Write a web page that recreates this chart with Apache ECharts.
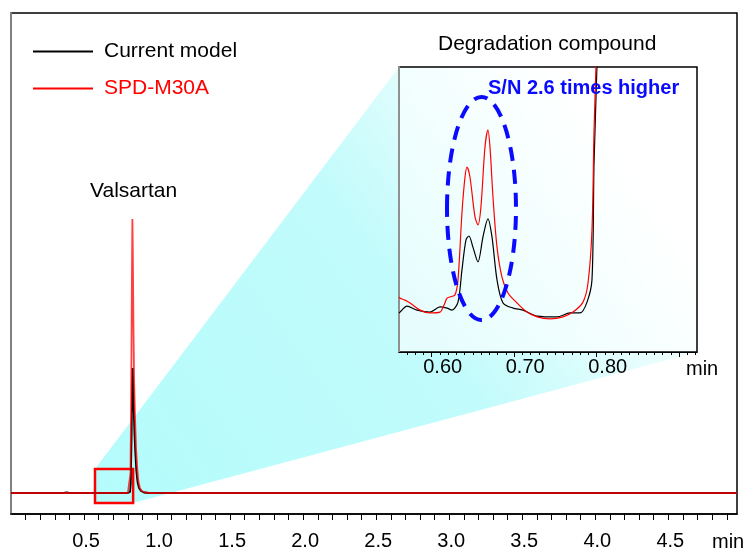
<!DOCTYPE html>
<html>
<head>
<meta charset="utf-8">
<script src="https://cdn.jsdelivr.net/npm/echarts@6/dist/echarts.min.js"></script>
<style>
html, body { margin: 0; padding: 0; background: #fff; }
#chart { width: 749px; height: 549px; }
</style>
</head>
<body>
<div id="chart"></div>
<script>
// main chromatogram (time in min, signal)
var mainTimeBlack = [0, 0.36, 0.38, 0.40, 0.80, 0.815, 0.82, 0.826, 0.830, 0.833, 0.836, 0.840, 0.845, 0.851, 0.858, 0.866, 0.876, 0.89, 0.91, 0.94, 4.97];
var mainSignalBlack = [0, 0, 0.5, 0, 0, 1, 10, 60, 110, 125, 110, 85, 60, 40, 22, 11, 5, 2, 0.5, 0, 0];
var mainTimeRed = [0, 0.80, 0.812, 0.818, 0.823, 0.828, 0.831, 0.834, 0.838, 0.843, 0.849, 0.856, 0.864, 0.872, 0.882, 0.895, 0.92, 0.95, 4.97];
var mainSignalRed = [0, 0, 2, 20, 100, 220, 274, 240, 170, 110, 75, 45, 25, 12, 5, 2, 0.5, 0, 0];

// inset (degradation compound)
var insetTimeRed = [0.5604, 0.5616, 0.5676, 0.5737, 0.5858, 0.5980, 0.6101, 0.6150, 0.6186, 0.6222, 0.6282, 0.6319, 0.6367, 0.6404, 0.6428, 0.6464, 0.6525, 0.6561, 0.6597, 0.6646, 0.6682, 0.6707, 0.6743, 0.6792, 0.6852, 0.6925, 0.7034, 0.7155, 0.7277, 0.7434, 0.7592, 0.7713, 0.7834, 0.7895, 0.7943, 0.7968, 0.7992, 0.8010];
var insetSignalRed = [19.3, 18.9, 18.2, 17.2, 14.7, 13.7, 14.0, 16.5, 18.9, 19.3, 20.0, 25.3, 48.8, 61.4, 64.9, 61.4, 47.4, 44.6, 50.9, 71.9, 77.9, 71.9, 54.4, 36.8, 26.3, 20.7, 17.2, 14.0, 12.3, 11.6, 12.3, 14.0, 17.5, 24.2, 42.8, 77.9, 101, 130];
var insetTimeBlack = [0.5604, 0.5616, 0.5700, 0.5822, 0.5980, 0.6101, 0.6186, 0.6246, 0.6319, 0.6367, 0.6416, 0.6452, 0.6500, 0.6561, 0.6622, 0.6682, 0.6731, 0.6792, 0.6865, 0.6986, 0.7107, 0.7277, 0.7519, 0.7677, 0.7798, 0.7883, 0.7943, 0.7968, 0.8004, 0.8020];
var insetSignalBlack = [13.7, 14.0, 16.1, 14.7, 14.0, 15.8, 15.4, 14.7, 17.5, 28.8, 39.3, 40.7, 36.8, 31.6, 40.4, 46.7, 40.4, 25.3, 17.2, 15.4, 14.7, 12.6, 12.3, 13.7, 13.7, 17.5, 25.3, 66.3, 101, 130];

// axis ticks
var mainLabelTicks = [0.5, 1.0, 1.5, 2.0, 2.5, 3.0, 3.5, 4.0, 4.5];
var mainMinorTicks = [0.1, 0.2, 0.3, 0.4, 0.5, 0.6, 0.7, 0.8, 0.9, 1.0, 1.1, 1.2, 1.3, 1.4, 1.5, 1.6, 1.7, 1.8, 1.9, 2.0, 2.1, 2.2, 2.3, 2.4, 2.5, 2.6, 2.7, 2.8, 2.9, 3.0, 3.1, 3.2, 3.3, 3.4, 3.5, 3.6, 3.7, 3.8, 3.9, 4.0, 4.1, 4.2, 4.3, 4.4, 4.5, 4.6, 4.7, 4.8, 4.9];
var insetLabelTicks = [0.6, 0.7, 0.8];
var insetMajorTicks = [0.6, 0.7, 0.8, 0.9];
var insetMinorTicks = [0.57, 0.58, 0.59, 0.61, 0.62, 0.63, 0.64, 0.65, 0.66, 0.67, 0.68, 0.69, 0.71, 0.72, 0.73, 0.74, 0.75, 0.76, 0.77, 0.78, 0.79, 0.81, 0.82, 0.83, 0.84, 0.85, 0.86, 0.87, 0.88, 0.89, 0.91, 0.92];

// zoom box and highlight ellipse (data coords)
var zoomBox = [[0.575, 24], [0.836, -10]];
var ellipseBox = [[0.6186, 89.5], [0.7022, 11.2]];

var FONT = 'Liberation Sans, Arial, sans-serif';

function pairs(xs, ys) {
    var out = [];
    for (var i = 0; i < xs.length; i++) out.push([xs[i], ys[i]]);
    return out;
}

var chart = echarts.init(document.getElementById('chart'));

var option = {
    animation: false,
    textStyle: { fontFamily: FONT },
    legend: {
        orient: 'vertical',
        left: 28,
        top: 36,
        icon: 'rect',
        itemWidth: 60,
        itemHeight: 2,
        itemGap: 16,
        selectedMode: false,
        textStyle: { fontSize: 21, fontFamily: FONT, padding: [0, 0, 0, 6] },
        data: [
            { name: 'Current model', itemStyle: { color: '#000' }, textStyle: { color: '#000' } },
            { name: 'SPD-M30A', itemStyle: { color: '#ff0000' }, textStyle: { color: '#ff0000' } }
        ]
    },
    grid: [
        { left: 11, top: 13, right: 12, bottom: 35, outerBoundsMode: 'none', containLabel: false,
          show: true, borderColor: '#000', borderWidth: 1.5, backgroundColor: 'transparent' },
        { left: 399, top: 67, width: 298, height: 285, outerBoundsMode: 'none', containLabel: false,
          show: true, borderColor: '#000', borderWidth: 1.5, backgroundColor: 'rgba(255,255,255,0.6)' }
    ],
    xAxis: [
        {
            gridIndex: 0, type: 'value', min: 0, max: 4.97, position: 'bottom',
            axisLine: { onZero: false, lineStyle: { color: '#000', width: 1.5 } },
            axisTick: { length: 6, lineStyle: { color: '#000' }, customValues: mainMinorTicks },
            axisLabel: { customValues: mainLabelTicks, fontSize: 20, color: '#000', margin: 17, fontFamily: FONT,
                padding: [0, 0, 0, 4], formatter: function (v) { return v.toFixed(1); } },
            splitLine: { show: false }
        },
        {
            gridIndex: 1, type: 'value', min: 0.5604, max: 0.9216, position: 'bottom',
            axisLine: { onZero: false, lineStyle: { color: '#000', width: 1.2 } },
            axisTick: { length: 5, lineStyle: { color: '#000' }, customValues: insetMajorTicks },
            axisLabel: { customValues: insetLabelTicks, fontSize: 20, color: '#000', margin: 5, fontFamily: FONT,
                padding: [0, 0, 0, 22], formatter: function (v) { return v.toFixed(2); } },
            splitLine: { show: false }
        },
        {
            gridIndex: 1, type: 'value', min: 0.5604, max: 0.9216, position: 'bottom',
            axisLine: { show: false, onZero: false },
            axisTick: { length: 3, lineStyle: { color: '#000' }, customValues: insetMinorTicks },
            axisLabel: { show: false },
            splitLine: { show: false }
        }
    ],
    yAxis: [
        {
            gridIndex: 0, type: 'value', min: -21, max: 480,
            axisLine: { show: true, onZero: false, lineStyle: { color: '#808080', width: 2 } },
            axisTick: { show: false }, axisLabel: { show: false }, splitLine: { show: false }
        },
        {
            gridIndex: 1, type: 'value', min: 0, max: 100,
            axisLine: { show: true, onZero: false, lineStyle: { color: '#909090', width: 2 } },
            axisTick: { show: false }, axisLabel: { show: false }, splitLine: { show: false }
        }
    ],
    series: [
        {
            name: 'Current model', type: 'line', xAxisIndex: 0, yAxisIndex: 0,
            data: pairs(mainTimeBlack, mainSignalBlack), showSymbol: false,
            lineStyle: { color: '#000', width: 1.8 }, itemStyle: { color: '#000' }
        },
        {
            name: 'SPD-M30A', type: 'line', xAxisIndex: 0, yAxisIndex: 0,
            data: pairs(mainTimeRed, mainSignalRed), showSymbol: false,
            lineStyle: { color: '#ff0000', width: 1.8, opacity: 0.75 }, itemStyle: { color: '#ff0000' },
            markArea: {
                silent: true,
                itemStyle: { color: 'rgba(0,0,0,0)', borderColor: '#ff0000', borderWidth: 2.5 },
                data: [[{ coord: zoomBox[0] }, { coord: zoomBox[1] }]]
            }
        },
        {
            name: 'Current model', type: 'line', xAxisIndex: 1, yAxisIndex: 1,
            data: pairs(insetTimeBlack, insetSignalBlack), showSymbol: false, smooth: 0.3,
            lineStyle: { color: '#000', width: 1.2 }, itemStyle: { color: '#000' }
        },
        {
            name: 'SPD-M30A', type: 'line', xAxisIndex: 1, yAxisIndex: 1,
            data: pairs(insetTimeRed, insetSignalRed), showSymbol: false, smooth: 0.3,
            lineStyle: { color: '#ff0000', width: 1.2 }, itemStyle: { color: '#ff0000' }
        }
    ]
};
chart.setOption(option);

// zoom wedge + annotations, placed from axis coordinates
function px(idx, pt) {
    return chart.convertToPixel({ xAxisIndex: idx, yAxisIndex: idx === 0 ? 0 : 1 }, pt);
}
var boxTL = px(0, zoomBox[0]), boxBR = px(0, zoomBox[1]);
var insTL = px(1, [0.5604, 100]), insBR = px(1, [0.9216, 0]);
var eTL = px(1, ellipseBox[0]), eBR = px(1, ellipseBox[1]);

chart.setOption({
    graphic: [
        {
            type: 'polygon', z: -5, silent: true,
            shape: { points: [
                [boxTL[0], boxTL[1]], [insTL[0], insTL[1]], [insBR[0], insTL[1]],
                [insBR[0], insBR[1]], [boxBR[0], boxBR[1]], [boxTL[0], boxBR[1]]
            ] },
            style: {
                fill: new echarts.graphic.LinearGradient(0, 1, 1, 0, [
                    { offset: 0, color: '#b4fcfc' },
                    { offset: 0.5, color: '#c2fbfb' },
                    { offset: 0.85, color: '#ffffff' }
                ])
            }
        },
        {
            type: 'ellipse', z: 10, silent: true,
            shape: { cx: (eTL[0] + eBR[0]) / 2, cy: (eTL[1] + eBR[1]) / 2, rx: (eBR[0] - eTL[0]) / 2, ry: (eBR[1] - eTL[1]) / 2 },
            style: { fill: null, stroke: '#0a0aff', lineWidth: 4, lineDash: [14, 9] }
        },
        { type: 'text', z: 10, left: 90, top: 181, style: { text: 'Valsartan', fontSize: 21, fontFamily: FONT, fill: '#000' } },
        { type: 'text', z: 10, left: 438, top: 34, style: { text: 'Degradation compound', fontSize: 21, fontFamily: FONT, fill: '#000' } },
        { type: 'text', z: 10, left: 488, top: 78, style: { text: 'S/N 2.6 times higher', fontSize: 20, fontWeight: 'bold', fontFamily: FONT, fill: '#0a0aff' } },
        { type: 'text', z: 10, left: 712, top: 532, style: { text: 'min', fontSize: 20, fontFamily: FONT, fill: '#000' } },
        { type: 'text', z: 10, left: 686, top: 359, style: { text: 'min', fontSize: 20, fontFamily: FONT, fill: '#000' } }
    ]
});
</script>
</body>
</html>
